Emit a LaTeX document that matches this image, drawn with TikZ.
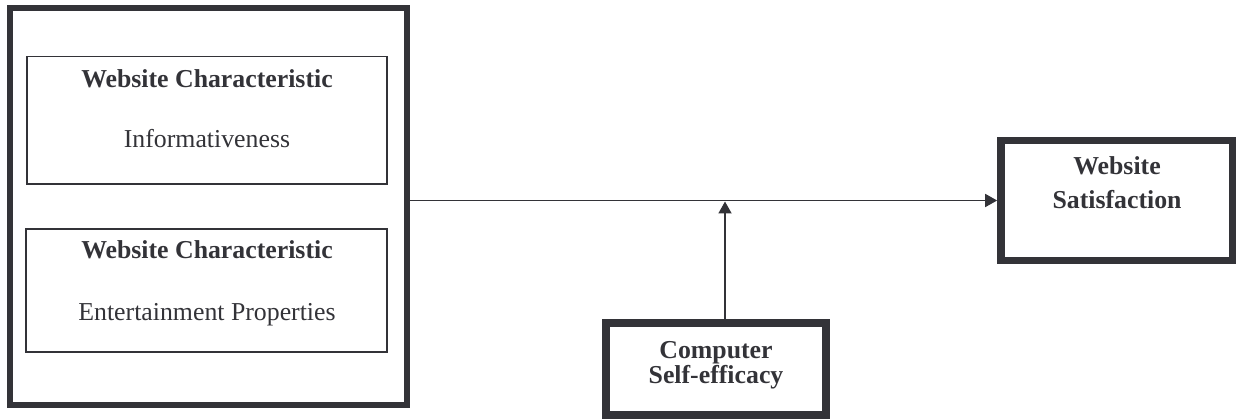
\documentclass[tikz,border=0pt]{standalone}
\usepackage{fontspec}
\setmainfont{Liberation Serif}
\usetikzlibrary{arrows.meta}
\definecolor{ink}{RGB}{51,51,56}
\tikzset{
  box/.style={draw=ink, rectangle, inner sep=0pt},
  txt/.style={anchor=base, inner sep=0pt, text=ink, font=\fontsize{25.8}{28}\selectfont},
  btxt/.style={txt, font=\fontsize{25.8}{28}\selectfont\bfseries},
  conn/.style={draw=ink, line width=1.8pt, -{Triangle[length=12pt,width=13pt]}}
}
\begin{document}
\begin{tikzpicture}[x=1pt,y=-1pt]
\useasboundingbox (0,0) rectangle (1236,419);
% outer group box
\node[box, line width=6pt, minimum width=396.4pt, minimum height=396.2pt] (outer) at (208.5,206.4) {};
\node[box, line width=1.6pt, minimum width=360pt, minimum height=127.3pt] (inf) at (206.7,120.2) {};
\node[box, line width=1.6pt, minimum width=361pt, minimum height=123pt] (ent) at (206.2,290.5) {};
\node[btxt] (inft1) at (207,88) {Website Characteristic};
\node[txt] (inft2) at (207,148) {Informativeness};
\node[btxt] (entt1) at (207,259) {Website Characteristic};
\node[txt] (entt2) at (207,320) {Entertainment Properties};
% satisfaction
\node[box, line width=7.7pt, minimum width=232pt, minimum height=120pt] (sat) at (1117,200.5) {};
\node[btxt] (satt1) at (1117,175) {Website};
\node[btxt] (satt2) at (1117,209) {Satisfaction};
% computer self-efficacy
\node[box, line width=8pt, minimum width=220pt, minimum height=92pt] (cse) at (716,369) {};
\node[btxt] (cset1) at (716,359) {Computer};
\node[btxt] (cset2) at (716,383) {Self-efficacy};
% connectors
\draw[conn] (outer.east |- sat.west) -- (sat.west);
\coordinate (mod) at ([xshift=9pt]cse.north);
\draw[conn] (mod) -- ([yshift=-1pt]mod |- sat.west);
\end{tikzpicture}
\end{document}
